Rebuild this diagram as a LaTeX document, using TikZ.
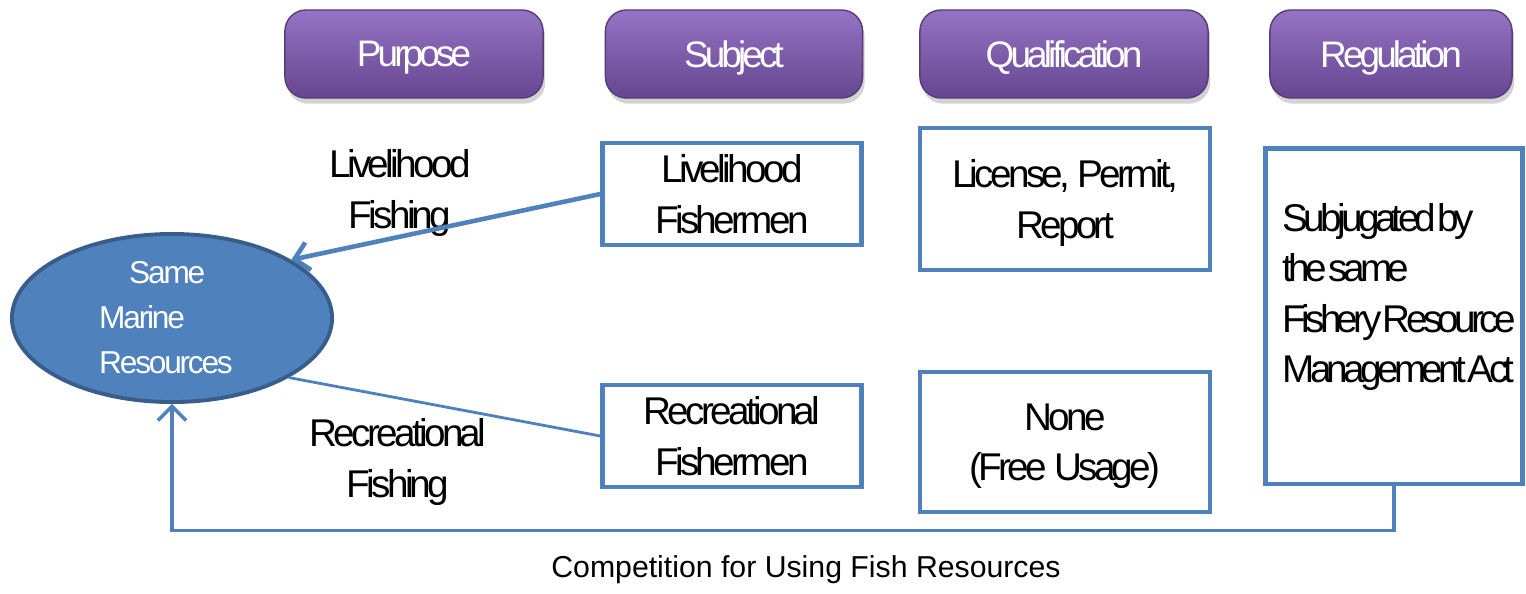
\documentclass[tikz,border=0pt]{standalone}
\usepackage{fontspec}
\setmainfont{Liberation Sans}[LetterSpace=-9.5]
\newfontfamily\headfont{Liberation Sans}[LetterSpace=-10.5]
\newfontfamily\ellfont{Liberation Sans}[LetterSpace=-7]
\newfontfamily\regfont{Liberation Sans}[LetterSpace=-12,WordSpace=0.25]
\newfontfamily\capfont{Liberation Sans}
\usetikzlibrary{arrows.meta,positioning,shapes.geometric,shadows}
\definecolor{hdrtop}{HTML}{9474C4}
\definecolor{hdrbot}{HTML}{664690}
\definecolor{acc}{HTML}{4F81BD}
\definecolor{accd}{HTML}{385D8A}
\tikzset{
  head/.style={rounded corners=6pt,top color=hdrtop,bottom color=hdrbot,draw=hdrbot!85!black,thin,text=white,
    font=\headfont\fontsize{10.5}{12}\selectfont,minimum height=0.88cm,text depth=0pt,
    drop shadow={opacity=0.35,shadow xshift=0.6pt,shadow yshift=-1.6pt}},
  box/.style={draw=acc,line width=1.2pt,fill=white,align=center,text depth=0pt,font=\fontsize{11}{14.3}\selectfont},
  lbl/.style={align=center,font=\fontsize{11}{14.3}\selectfont},
  ar/.style={-{Straight Barb[length=4pt,width=8pt]},draw=acc},
}

\begin{document}
\begin{tikzpicture}[x=0.01cm,y=-0.01cm]
\useasboundingbox (0,0) rectangle (1526,593);
% column heads
\node[head,minimum width=2.58cm] (hpur) at (414,54) {Purpose};
\node[head,minimum width=2.57cm] (hsub) at (734,54) {Subject};
\node[head,minimum width=2.88cm] (hqua) at (1064,54) {Qualification};
\node[head,minimum width=2.42cm] (hreg) at (1391,54) {Regulation};
% resource
\node[ellipse,draw=accd,line width=1.1pt,fill=acc,minimum width=3.2cm,minimum height=1.68cm] (ell) at (172,318) {};
\node[text=white,align=left,font=\ellfont\fontsize{9}{12.8}\selectfont] (elltxt) at (166,318)
  {\hspace*{0.3cm}Same\\Marine\\Resources};
% subjects and rules
\node[box,minimum width=2.59cm,minimum height=0.92cm] (lf) at (732,194) {Livelihood\\Fishermen};
\node[box,minimum width=2.59cm,minimum height=0.92cm] (rf) at (732,436) {Recreational\\Fishermen};
\node[box,minimum width=2.9cm,minimum height=1.42cm] (lic) at (1065,199) {License, Permit,\\Report};
\node[box,minimum width=2.9cm,minimum height=1.40cm] (none) at (1065,442) {None\\(Free Usage)};
\node[box,minimum width=2.57cm,minimum height=3.35cm] (reg) at (1394,316) {};
\node[lbl,align=left,anchor=west,font=\regfont\fontsize{11}{14.3}\selectfont] (regtxt) at (1270,297)
  {Subjugated by\\the same\\Fishery Resource\\Management Act};
% purposes
\node[lbl] (lfish) at (400,193) {Livelihood\\Fishing};
\node[lbl] (rfish) at (398,462) {Recreational\\Fishing};
% links
\draw[ar,line width=1.3pt] (lf.west) -- (ell.26);
\draw[acc,line width=0.8pt] (rf.west) -- (ell.-27);
\draw[ar,line width=1pt] (reg.south) -- ++(0,45) -| (ell.south);
\node[font=\capfont\fontsize{8.6}{10}\selectfont] (cap) at (806,570) {Competition for Using Fish Resources};
\end{tikzpicture}
\end{document}
